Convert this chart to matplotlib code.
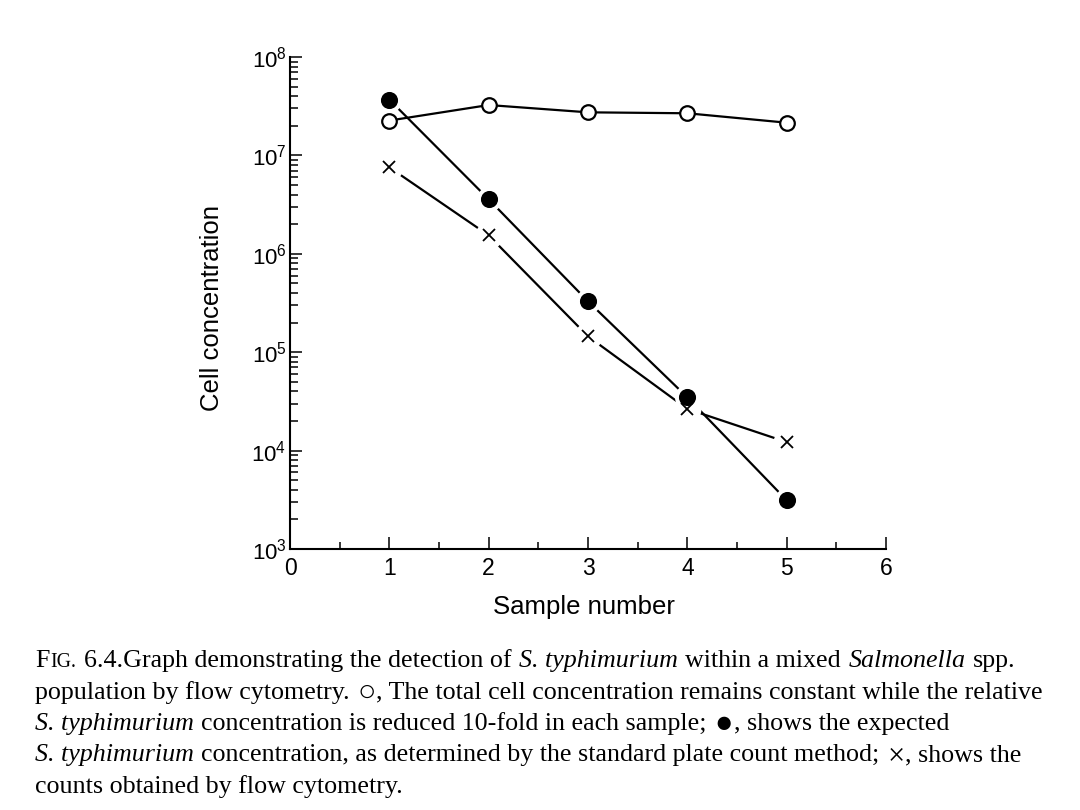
import matplotlib
matplotlib.use('Agg')
from matplotlib import pyplot as plt
from matplotlib import ticker

plt.rcParams['font.family'] = 'Liberation Sans'
plt.rcParams['mathtext.fontset'] = 'custom'
plt.rcParams['mathtext.rm'] = 'Liberation Sans'

# values (cells per ml, log axis)
samples = [1, 2, 3, 4, 5]
total_conc = [2.26e7, 3.25e7, 2.74e7, 2.68e7, 2.15e7]   # open circles
plate_count = [3.69e7, 3.58e6, 3.29e5, 3.48e4, 3.13e3]  # filled circles
flow_count = [7.57e6, 1.54e6, 1.45e5, 2.65e4, 1.22e4]   # crosses

x_ticks = [0, 1, 2, 3, 4, 5, 6]
x_label = 'Sample number'
y_label = 'Cell concentration'

W, H = 1080, 810
fig = plt.figure(figsize=(W / 100, H / 100), dpi=100)
fig.patch.set_facecolor('white')
ax = fig.add_axes([290 / W, 1 - 549 / H, 596 / W, 492 / H])

lw = 1.6
# connecting lines
ax.plot(samples, total_conc, color='k', lw=lw, zorder=2)
ax.plot(samples, plate_count, color='k', lw=lw, zorder=2)
ax.plot(samples, flow_count, color='k', lw=lw, zorder=2)
# white halos so the lines stop short of the points
ax.plot(samples, plate_count, ls='none', marker='o', ms=18, mfc='white', mec='none', zorder=3)
ax.plot(samples, flow_count, ls='none', marker='o', ms=20, mfc='white', mec='none', zorder=3)
# markers
ax.plot(samples, total_conc, ls='none', marker='o', ms=10.5, mfc='white', mec='k', mew=1.6, zorder=4)
ax.plot(samples, plate_count, ls='none', marker='o', ms=11.3, mfc='k', mec='k', zorder=4)
ax.plot(samples, flow_count, ls='none', marker='x', ms=8.4, mec='k', mew=1.3, zorder=4)

ax.set_yscale('log')
ax.set_ylim(1e3, 1e8)
ax.set_xlim(0, 6)
ax.set_xticks(x_ticks)
ax.xaxis.set_minor_locator(ticker.MultipleLocator(0.5))
ax.yaxis.set_major_locator(ticker.LogLocator(base=10, numticks=10))
ax.yaxis.set_minor_locator(ticker.LogLocator(base=10, subs=range(2, 10), numticks=20))
ax.yaxis.set_minor_formatter(ticker.NullFormatter())

for s in ['top', 'right']:
    ax.spines[s].set_visible(False)
for s in ['left', 'bottom']:
    ax.spines[s].set_linewidth(1.5)

ax.tick_params(axis='both', which='both', direction='in', width=1.1, color='k')
ax.tick_params(axis='y', which='major', length=8.4, labelsize=16, pad=2.5)
ax.tick_params(axis='y', which='minor', length=5.5)
ax.tick_params(axis='x', which='major', length=8.5, labelsize=16.5, pad=6)
ax.tick_params(axis='x', which='minor', length=5)

ax.set_xlabel(x_label, fontsize=18.5)
ax.set_ylabel(y_label, fontsize=18.5)
ax.xaxis.set_label_coords(0.493, -0.093)
ax.yaxis.set_label_coords(-0.11, 0.49)

# caption in a serif face, mixed roman / italic; runs are (text, style, size, drop in px)
SP = None
big, small, sym = 18.7, 14.3, 22
caption = [
    [('F', 'normal', big, 0), ('IG.', 'normal', small, 0), SP,
     ('6.4.Graph demonstrating the detection of', 'normal', big, 0), SP,
     ('S. typhimurium', 'italic', big, 0), SP, ('within a mixed', 'normal', big, 0), SP,
     ('Salmonella', 'italic', big, 0), SP, ('spp.', 'normal', big, 0)],
    [('population by flow cytometry.', 'normal', big, 0), SP, ('\u25cb', 'normal', sym, 2),
     (', The total cell concentration remains constant while the relative', 'normal', big, 0)],
    [('S. typhimurium', 'italic', big, 0), SP,
     ('concentration is reduced 10-fold in each sample;', 'normal', big, 0), SP,
     ('\u25cf', 'normal', sym, 2), (', shows the expected', 'normal', big, 0)],
    [('S. typhimurium', 'italic', big, 0), SP,
     ('concentration, as determined by the standard plate count method;', 'normal', big, 0), SP,
     ('\u00d7', 'normal', sym, 3), (', shows the', 'normal', big, 0)],
    [('counts obtained by flow cytometry.', 'normal', big, 0)],
]

renderer = fig.canvas.get_renderer()
x0, y0, step = 35, 667, 31.5
for i, line in enumerate(caption):
    xp = x0
    yp = y0 + i * step
    for run in line:
        if run is SP:
            xp += big * 100 / 72 * 0.25
            continue
        txt, style, size, drop = run
        t = fig.text(xp / W, 1 - (yp + drop) / H, txt, fontsize=size, style=style,
                     family='Liberation Serif', ha='left', va='baseline')
        xp += t.get_window_extent(renderer).width + 1

fig.savefig('out.png', dpi=100, facecolor='white')
